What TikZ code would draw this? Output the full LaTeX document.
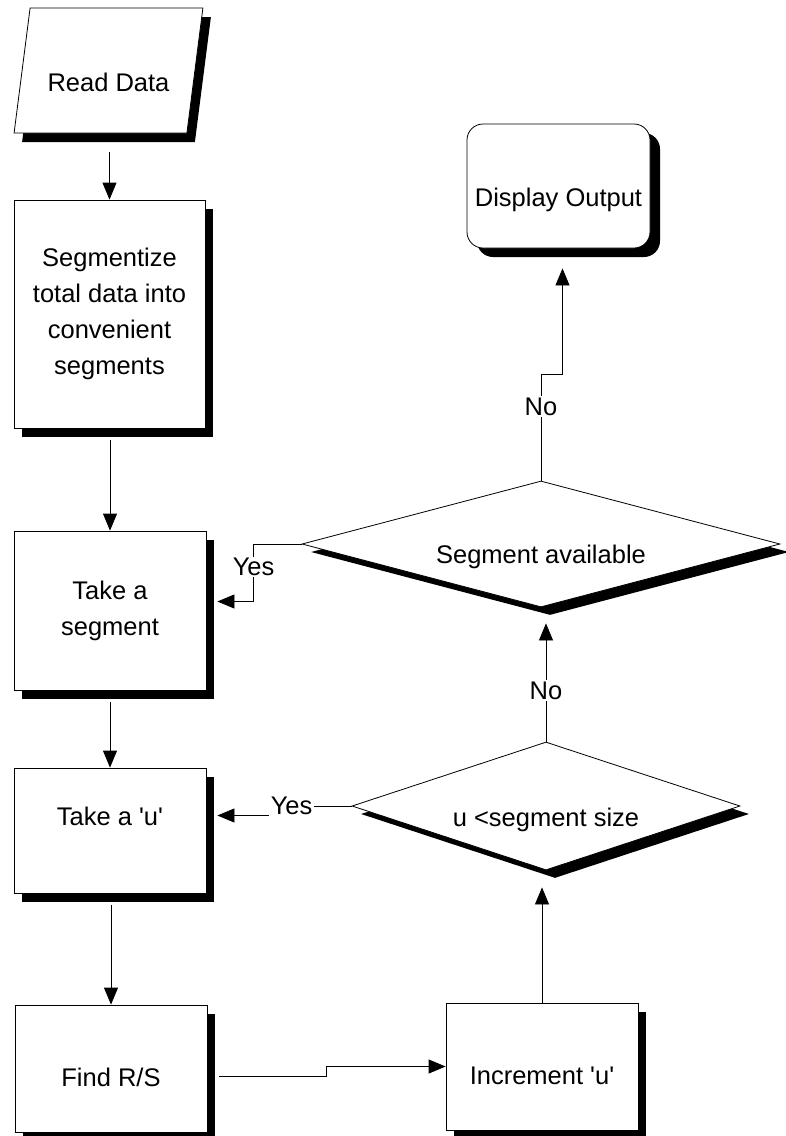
\documentclass[tikz,border=0pt]{standalone}
\usepackage{fontspec}
\newfontfamily\arial{Liberation Sans}
\usetikzlibrary{shapes.geometric,shadows,arrows.meta,calc}
\begin{document}
\begin{tikzpicture}[x=1pt,y=-1pt,
  font=\arial\fontsize{25.5}{36}\selectfont,
  line width=0.8pt,
  shd/.style={drop shadow={shadow xshift=8pt,shadow yshift=-9pt,fill=black,opacity=1}},
  shdd/.style={drop shadow={shadow xshift=9pt,shadow yshift=-8pt,fill=black,opacity=1}},
  box/.style={draw,fill=white,inner sep=0pt,align=center},
  low/.style={text height=#1,text depth=0pt},
  high/.style={text height=0pt,text depth=#1},
  arr/.style={-{Triangle[width=14pt,length=17pt]}},
  lbl/.style={fill=white,inner sep=1.5pt}]
\useasboundingbox (0,0) rectangle (786,1136);

% nodes
\node[box,shd,trapezium,trapezium left angle=73.5,trapezium right angle=106.5,
      trapezium stretches=true,minimum width=189pt,minimum height=125pt,low=42pt]
      (rd) at (108.5,70.5) {Read Data};
\node[box,shd,minimum width=191pt,minimum height=228pt] (seg) at (109.5,314)
      {Segmentize\\total data into\\convenient\\segments};
\node[box,shd,minimum width=192pt,minimum height=159pt] (ts) at (110,610.5)
      {Take a\\segment};
\node[box,shd,minimum width=192pt,minimum height=125pt,high=10pt] (tu) at (110,830.5)
      {Take a 'u'};
\node[box,shd,minimum width=192pt,minimum height=127pt,low=36pt] (fr) at (111,1068.5)
      {Find R/S};
\node[box,shd,minimum width=192pt,minimum height=127pt,low=36pt] (inc) at (542,1066.5)
      {Increment 'u'};
\node[box,drop shadow={shadow xshift=10pt,shadow yshift=-9pt,fill=black,opacity=1},
      rounded corners=16pt,minimum width=183pt,minimum height=124pt,low=40pt] (disp) at (558.5,186)
      {Display Output};
\node[box,shdd,diamond,aspect=3.8,minimum width=478pt,minimum height=126pt,low=38pt] (d1) at (541,544)
      {Segment available};
\node[box,shdd,diamond,aspect=3.0,minimum width=388pt,minimum height=128pt,low=40pt] (d2) at (546,806)
      {u <segment size};

% connectors
\draw[arr,shorten <=19pt] (seg.north |- rd.south) -- (seg.north);
\draw[arr,shorten <=12pt] (ts.north |- seg.south) -- (ts.north);
\draw[arr,shorten <=12pt] (tu.north |- ts.south) -- (tu.north);
\draw[arr,shorten <=12pt] (fr.north |- tu.south) -- (fr.north);
\draw[arr] ([shift={(12pt,-8pt)}]fr.east) -| ($(fr.east)!.5!(inc.west)$) |- (inc.west);
\draw[arr,shorten >=17pt] (inc.north) -- (inc.north |- d2.south);
\draw[arr,shorten >=16pt] (d2.north) -- node[lbl,pos=0.38]{No} (d2.north |- d1.south);
\draw[arr] (d1.north) -- node[lbl,pos=0.7]{No} ++(0,-106) -| ([shift={(4pt,-20pt)}]disp.south);
\draw[arr] (d1.west) -- ++(-48,0) |- node[lbl,pos=0.2]{Yes} ([shift={(11pt,9pt)}]ts.east);
\draw[arr] (d2.west) -- ++(-60,0) node[lbl]{Yes} |- ([shift={(11pt,15pt)}]tu.east);
\end{tikzpicture}
\end{document}
